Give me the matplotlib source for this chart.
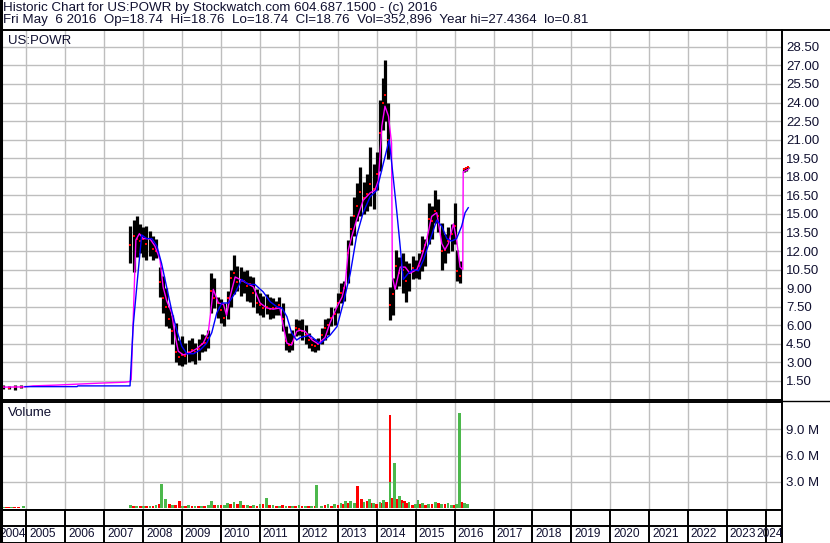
import matplotlib
matplotlib.use('Agg')
import matplotlib.pyplot as plt
from matplotlib.lines import Line2D

plt.rcParams['font.family'] = ['Liberation Sans', 'DejaVu Sans']

W, H = 830, 543
TXT = '#101030'
GRID = '#bebebe'

# monthly price bars (decimal year)
bar_dates = [2004.40, 2004.55, 2004.70, 2004.85,
             2007.67, 2007.75, 2007.83, 2007.92,
             2008.00, 2008.08, 2008.17, 2008.25, 2008.33, 2008.42, 2008.50, 2008.58, 2008.67, 2008.75, 2008.83, 2008.92,
             2009.00, 2009.08, 2009.17, 2009.25, 2009.33, 2009.42, 2009.50, 2009.58, 2009.67, 2009.75, 2009.83, 2009.92,
             2010.00, 2010.08, 2010.17, 2010.25, 2010.33, 2010.42, 2010.50, 2010.58, 2010.67, 2010.75, 2010.83, 2010.92,
             2011.00, 2011.08, 2011.17, 2011.25, 2011.33, 2011.42, 2011.50, 2011.58, 2011.67, 2011.75, 2011.83, 2011.92,
             2012.00, 2012.08, 2012.17, 2012.25, 2012.33, 2012.42, 2012.50, 2012.58, 2012.67, 2012.75, 2012.83, 2012.92,
             2013.00, 2013.08, 2013.17, 2013.25, 2013.33, 2013.42, 2013.50, 2013.58, 2013.67, 2013.75, 2013.83, 2013.92,
             2014.00, 2014.08, 2014.17, 2014.21, 2014.29, 2014.35, 2014.42, 2014.50, 2014.58, 2014.67, 2014.75, 2014.83, 2014.92,
             2015.00, 2015.08, 2015.17, 2015.25, 2015.33, 2015.42, 2015.50, 2015.58, 2015.67, 2015.75, 2015.83, 2015.92,
             2016.00, 2016.06, 2016.14, 2016.23, 2016.29, 2016.35]
bar_high = [1.15, 1.10, 1.15, 1.20,
            14.0, 14.5, 14.8, 14.2,
            13.9, 14.0, 13.6, 13.2, 13.0, 10.7, 10.0, 9.0, 7.5, 6.8, 6.2, 4.8,
            5.1, 4.6, 4.8, 5.0, 4.6, 4.9, 5.3, 5.2, 5.6, 10.2, 9.8, 8.3,
            8.1, 7.8, 8.8, 10.5, 11.7, 10.8, 10.7, 10.4, 10.5, 10.0, 9.9, 8.9,
            8.6, 8.4, 8.5, 8.3, 8.2, 8.0, 8.3, 7.8, 5.9, 5.4, 5.6, 6.5,
            6.4, 6.5, 6.0, 5.4, 5.0, 4.9, 5.0, 5.8, 6.5, 6.6, 7.5, 7.4,
            8.6, 9.4, 9.6, 12.9, 14.8, 16.4, 17.5, 18.8, 17.6, 18.2, 20.4, 19.0,
            20.0, 24.2, 26.0, 27.44, 24.0, 9.1, 9.8, 12.1, 11.5, 11.8, 11.2, 11.0, 11.6,
            11.3, 11.8, 13.2, 13.0, 15.9, 15.6, 16.9, 16.2, 14.3, 13.4, 13.9, 14.2,
            15.9, 12.1, 11.2, 18.74, 18.76, 18.76]
bar_low = [0.85, 0.85, 0.80, 0.90,
           11.0, 10.3, 11.5, 11.8,
           11.5, 11.3, 11.6, 11.3, 11.4, 8.3, 7.0, 5.9, 5.8, 4.5, 3.0, 2.8,
           2.7, 2.9, 3.0, 3.1, 2.9, 3.2, 3.8, 3.9, 4.2, 7.0, 7.4, 6.6,
           6.2, 5.9, 6.5, 7.5, 8.5, 8.8, 8.4, 8.6, 8.0, 7.9, 7.5, 7.0,
           6.8, 6.7, 6.9, 6.5, 6.6, 6.8, 6.8, 5.5, 4.0, 3.8, 4.0, 5.1,
           5.2, 4.8, 4.5, 4.2, 3.9, 3.8, 4.0, 4.5, 4.8, 5.2, 5.9, 6.0,
           7.0, 7.8, 8.0, 9.4, 12.5, 13.2, 14.4, 14.8, 15.0, 15.2, 15.6, 15.4,
           16.9, 18.5, 21.8, 22.5, 19.4, 6.4, 6.8, 8.9, 9.2, 8.6, 7.9, 8.8, 9.7,
           9.8, 9.7, 10.4, 10.8, 12.6, 13.0, 14.3, 13.5, 10.5, 11.0, 11.8, 12.0,
           12.6, 9.6, 9.4, 18.40, 18.50, 18.74]
bar_close = [1.00, 0.95, 1.00, 1.05,
             12.5, 13.2, 13.0, 12.8,
             13.0, 12.6, 13.0, 12.2, 12.0, 9.5, 8.2, 7.5, 6.5, 5.5, 3.8, 3.4,
             3.6, 3.5, 3.8, 4.0, 3.8, 4.1, 4.5, 4.6, 5.0, 8.8, 8.2, 7.8,
             7.2, 6.6, 8.2, 9.8, 10.2, 9.5, 9.6, 9.6, 9.2, 9.3, 8.6, 7.8,
             7.6, 7.4, 7.5, 7.3, 7.4, 7.4, 7.6, 6.5, 4.7, 4.4, 4.6, 5.8,
             5.7, 5.5, 5.2, 4.8, 4.4, 4.3, 4.5, 5.2, 5.8, 6.0, 6.6, 6.9,
             7.8, 8.6, 9.0, 11.8, 13.8, 14.8, 15.6, 16.8, 16.3, 16.6, 17.4, 17.0,
             18.2, 21.5, 24.0, 24.6, 21.0, 7.6, 8.5, 10.8, 10.2, 10.5, 9.6, 10.2, 10.6,
             10.5, 10.8, 12.0, 12.5, 14.6, 14.4, 15.2, 14.8, 12.0, 12.1, 12.8, 13.4,
             14.0, 10.4, 10.0, 18.60, 18.70, 18.76]

# short moving average (magenta)
short_ma_dates = [2004.40, 2004.96, 2005.17, 2005.73, 2006.30, 2006.86, 2007.53, 2007.66, 2007.69, 2007.81,
                  2007.90, 2008.00, 2008.17, 2008.30, 2008.43, 2008.51, 2008.60, 2008.73, 2008.82, 2008.90,
                  2009.03, 2009.20, 2009.37, 2009.54, 2009.67, 2009.80, 2009.93, 2010.06, 2010.14, 2010.23,
                  2010.36, 2010.49, 2010.66, 2010.83, 2011.00, 2011.17, 2011.34, 2011.51, 2011.60, 2011.69,
                  2011.81, 2011.94, 2012.03, 2012.16, 2012.34, 2012.49, 2012.67, 2012.80, 2012.98, 2013.11,
                  2013.19, 2013.27, 2013.36, 2013.48, 2013.65, 2013.83, 2013.95, 2014.04, 2014.13, 2014.21,
                  2014.30, 2014.38, 2014.40, 2014.47, 2014.60, 2014.73, 2014.85, 2015.03, 2015.15, 2015.28,
                  2015.41, 2015.54, 2015.67, 2015.75, 2015.84, 2015.97, 2016.05, 2016.14, 2016.21, 2016.22,
                  2016.35]
short_ma = [1.00, 1.02, 1.10, 1.16, 1.24, 1.32, 1.40, 1.45, 1.6, 12.9,
            13.4, 13.0, 13.0, 12.4, 11.3, 9.1, 8.0, 7.0, 5.1, 3.9,
            3.6, 3.8, 4.1, 4.55, 5.4, 8.9, 7.8, 7.7, 6.8, 8.3,
            9.9, 9.7, 9.4, 9.1, 7.8, 7.4, 7.3, 7.4, 5.9, 4.55,
            4.4, 5.5, 5.6, 5.5, 4.8, 4.5, 5.0, 6.2, 7.5, 8.3,
            9.4, 12.1, 13.2, 14.5, 16.1, 16.7, 16.9, 17.7, 22.1, 23.7,
            22.9, 20.7, 9.9, 8.9, 10.7, 10.7, 10.2, 10.5, 11.5, 12.9,
            14.8, 15.1, 12.6, 12.1, 12.6, 14.2, 12.9, 10.7, 10.5, 18.4,
            18.6]

# long moving average (blue)
long_ma_dates = [2004.96, 2006.30, 2006.32, 2007.66, 2007.74, 2007.85, 2007.96, 2008.09, 2008.22, 2008.35,
                 2008.47, 2008.60, 2008.73, 2008.86, 2008.99, 2009.12, 2009.29, 2009.46, 2009.63, 2009.76,
                 2009.89, 2010.02, 2010.19, 2010.36, 2010.53, 2010.70, 2010.87, 2011.08, 2011.26, 2011.43,
                 2011.56, 2011.69, 2011.81, 2011.94, 2012.03, 2012.28, 2012.54, 2012.80, 2012.98, 2013.14,
                 2013.32, 2013.48, 2013.65, 2013.83, 2014.00, 2014.17, 2014.32, 2014.42, 2014.51, 2014.60,
                 2014.68, 2014.81, 2014.94, 2015.07, 2015.20, 2015.37, 2015.54, 2015.67, 2015.80, 2015.92,
                 2016.05, 2016.18, 2016.27, 2016.35]
long_ma = [1.04, 1.04, 1.10, 1.10, 5.9, 9.7, 13.3, 13.0, 13.0, 12.4,
           11.0, 9.1, 7.2, 5.6, 4.3, 3.7, 3.7, 4.0, 4.55, 5.4,
           7.0, 7.8, 7.8, 8.6, 9.7, 9.3, 9.3, 8.7, 7.9, 7.5,
           7.4, 6.7, 5.4, 4.8, 5.0, 5.2, 4.5, 5.2, 5.9, 7.8,
           10.2, 13.2, 15.1, 16.4, 16.9, 19.1, 21.0, 18.0, 15.3, 12.4,
           9.7, 10.2, 10.5, 10.4, 11.3, 12.9, 14.5, 14.0, 13.0, 12.8,
           13.0, 14.0, 15.1, 15.5]

# volume in millions, split by up (green) and down (red) days
up_vol_dates = [2004.40, 2004.62, 2004.92, 2007.67, 2007.83, 2008.00, 2008.17, 2008.33, 2008.47, 2008.58,
                2008.75, 2009.00, 2009.17, 2009.33, 2009.50, 2009.67, 2009.76, 2009.92, 2010.08, 2010.17,
                2010.33, 2010.50, 2010.67, 2010.83, 2011.00, 2011.16, 2011.33, 2011.50, 2011.67, 2011.83,
                2012.00, 2012.17, 2012.33, 2012.45, 2012.58, 2012.75, 2012.92, 2013.08, 2013.20, 2013.33,
                2013.42, 2013.67, 2013.81, 2013.92, 2014.08, 2014.17, 2014.34, 2014.45, 2014.59, 2014.67,
                2014.83, 2015.00, 2015.06, 2015.17, 2015.33, 2015.50, 2015.67, 2015.83, 2015.92, 2016.05,
                2016.13, 2016.25, 2016.33]
up_vol = [0.12, 0.10, 0.30, 0.35, 0.25, 0.30, 0.25, 0.35, 2.7, 1.0,
          0.40, 0.30, 0.35, 0.25, 0.30, 0.40, 0.80, 0.35, 0.40, 0.60,
          0.75, 0.80, 0.40, 0.35, 0.45, 1.2, 0.40, 0.30, 0.25, 0.30,
          0.35, 0.25, 0.30, 2.6, 0.30, 0.45, 0.50, 0.60, 0.80, 0.85,
          0.60, 0.70, 1.0, 0.60, 0.70, 0.90, 3.0, 5.2, 1.4, 0.60,
          0.70, 0.50, 0.90, 0.60, 0.50, 0.70, 0.50, 0.60, 0.40, 0.50,
          10.9, 0.60, 0.50]
down_vol_dates = [2004.48, 2004.55, 2004.70, 2004.80, 2007.75, 2007.92, 2008.08, 2008.25, 2008.42, 2008.67,
                  2008.83, 2008.94, 2009.08, 2009.25, 2009.42, 2009.58, 2009.83, 2010.00, 2010.25, 2010.42,
                  2010.58, 2010.75, 2010.92, 2011.08, 2011.25, 2011.42, 2011.58, 2011.75, 2011.92, 2012.08,
                  2012.25, 2012.42, 2012.67, 2012.83, 2013.00, 2013.13, 2013.27, 2013.50, 2013.61, 2013.75,
                  2013.87, 2014.00, 2014.12, 2014.25, 2014.34, 2014.40, 2014.52, 2014.63, 2014.72, 2014.78,
                  2014.92, 2015.12, 2015.25, 2015.42, 2015.58, 2015.75, 2016.00, 2016.18, 2016.29]
down_vol = [0.15, 0.12, 0.10, 0.15, 0.30, 0.20, 0.25, 0.30, 0.50, 0.45,
            0.40, 0.80, 0.30, 0.25, 0.20, 0.30, 0.40, 0.35, 0.50, 0.45,
            0.35, 0.30, 0.30, 0.50, 0.35, 0.30, 0.35, 0.30, 0.25, 0.30,
            0.20, 0.25, 0.35, 0.30, 0.40, 0.45, 0.60, 2.5, 1.1, 0.80,
            0.60, 0.50, 0.60, 0.70, 10.6, 1.2, 1.0, 0.90, 0.80, 0.60,
            0.40, 0.50, 0.40, 0.45, 0.60, 0.45, 0.40, 0.70, 0.30]

price_ticks = [1.5, 3.0, 4.5, 6.0, 7.5, 9.0, 10.5, 12.0, 13.5, 15.0,
               16.5, 18.0, 19.5, 21.0, 22.5, 24.0, 25.5, 27.0, 28.5]
vol_ticks = [3, 6, 9]
vol_tick_labels = ['3.0 M', '6.0 M', '9.0 M']
years = list(range(2004, 2025))

header1 = 'Historic Chart for US:POWR by Stockwatch.com 604.687.1500 - (c) 2016'
header2 = 'Fri May  6 2016  Op=18.74  Hi=18.76  Lo=18.74  Cl=18.76  Vol=352,896  Year hi=27.4364  lo=0.81'


def box(x0, y0, x1, y1):
    # pixel box (top-left origin) -> figure rect
    return [x0 / W, 1 - y1 / H, (x1 - x0) / W, (y1 - y0) / H]


x_lo, x_hi = 2004.345, 2024.411
fs = 9.5
fs_year = 8.6

fig = plt.figure(figsize=(W / 100, H / 100), dpi=100)
ax_p = fig.add_axes(box(1, 29.5, 782, 399.5))
ax_v = fig.add_axes(box(1, 402, 782, 509.5))
ax_y = fig.add_axes(box(1, 509.5, 782, 543))

for ax in (ax_p, ax_v, ax_y):
    ax.set_xlim(x_lo, x_hi)
    for s in ax.spines.values():
        s.set_color('black')
        s.set_linewidth(1.4)
    ax.set_xticks([])

# gridlines drawn by hand, under the data
ax_p.set_ylim(0, 29.9)
ax_v.set_ylim(-0.15, 12.1)
ax_p.vlines(years[1:], 0, 29.9, color=GRID, lw=1.0, zorder=1)
ax_p.hlines(price_ticks, x_lo, x_hi, color=GRID, lw=1.0, zorder=1)
ax_v.vlines(years[1:], -0.15, 12.1, color=GRID, lw=1.0, zorder=1)
ax_v.hlines(vol_ticks, x_lo, x_hi, color=GRID, lw=1.0, zorder=1)

# price panel
ax_p.vlines(bar_dates, bar_low, bar_high, color='black', lw=2.3, zorder=2)
ax_p.plot(bar_dates, bar_close, ls='none', marker='s', ms=2.0, mew=0, color='red', zorder=3)
ax_p.plot(short_ma_dates, short_ma, color='#ff00ff', lw=1.0, zorder=4)
ax_p.plot(long_ma_dates, long_ma, color='#0000ff', lw=1.0, zorder=5)
ax_p.set_yticks(price_ticks)
ax_p.set_yticklabels([f'{t:.2f}' for t in price_ticks])
ax_p.yaxis.tick_right()
ax_p.tick_params(axis='y', length=0, pad=3, labelsize=fs, labelcolor=TXT)
ax_p.text(0.009, 0.969, 'US:POWR', transform=ax_p.transAxes, fontsize=fs,
          color=TXT, va='center', ha='left')

# volume panel
ax_v.bar(down_vol_dates, down_vol, width=0.07, color='#ff0000', lw=0, zorder=2)
ax_v.bar(up_vol_dates, up_vol, width=0.07, color='#4cb84c', lw=0, zorder=3)
ax_v.set_yticks(vol_ticks)
ax_v.set_yticklabels(vol_tick_labels)
ax_v.yaxis.tick_right()
ax_v.tick_params(axis='y', length=0, pad=3, labelsize=fs, labelcolor=TXT)
ax_v.text(0.009, 0.898, 'Volume', transform=ax_v.transAxes, fontsize=fs,
          color=TXT, va='center', ha='left')

# year strip
ax_y.set_ylim(0, 1)
ax_y.set_yticks([])
ax_y.vlines(years[1:], 0, 1, color='black', lw=1.4)
ax_y.axhline(0.507, color='black', lw=1.4)
for yr in years:
    if yr == years[0]:
        ax_y.text(x_lo - 0.05, 0.254, str(yr), ha='left', va='center', fontsize=fs_year, color=TXT)
    elif yr == years[-1]:
        ax_y.text(x_hi + 0.03, 0.254, str(yr), ha='right', va='center', fontsize=fs_year, color=TXT)
    else:
        ax_y.text(yr + 0.07, 0.254, str(yr), ha='left', va='center', fontsize=fs_year, color=TXT)

# outer frame pieces
fig.add_artist(Line2D([1.2 / W, 1.2 / W], [0, 1], color='black', lw=2.2))
fig.add_artist(Line2D([782 / W, 1], [1 - 29.5 / H] * 2, color='black', lw=1.4))
fig.add_artist(Line2D([782 / W, 1], [1 - 400.5 / H] * 2, color='black', lw=1.0))

# header
fig.text(3 / W, 1 - 7.5 / H, header1, fontsize=9.6, color=TXT, va='center', ha='left')
fig.text(3 / W, 1 - 20.5 / H, header2, fontsize=9.6, color=TXT, va='center', ha='left')

fig.savefig('out.png', dpi=100)
